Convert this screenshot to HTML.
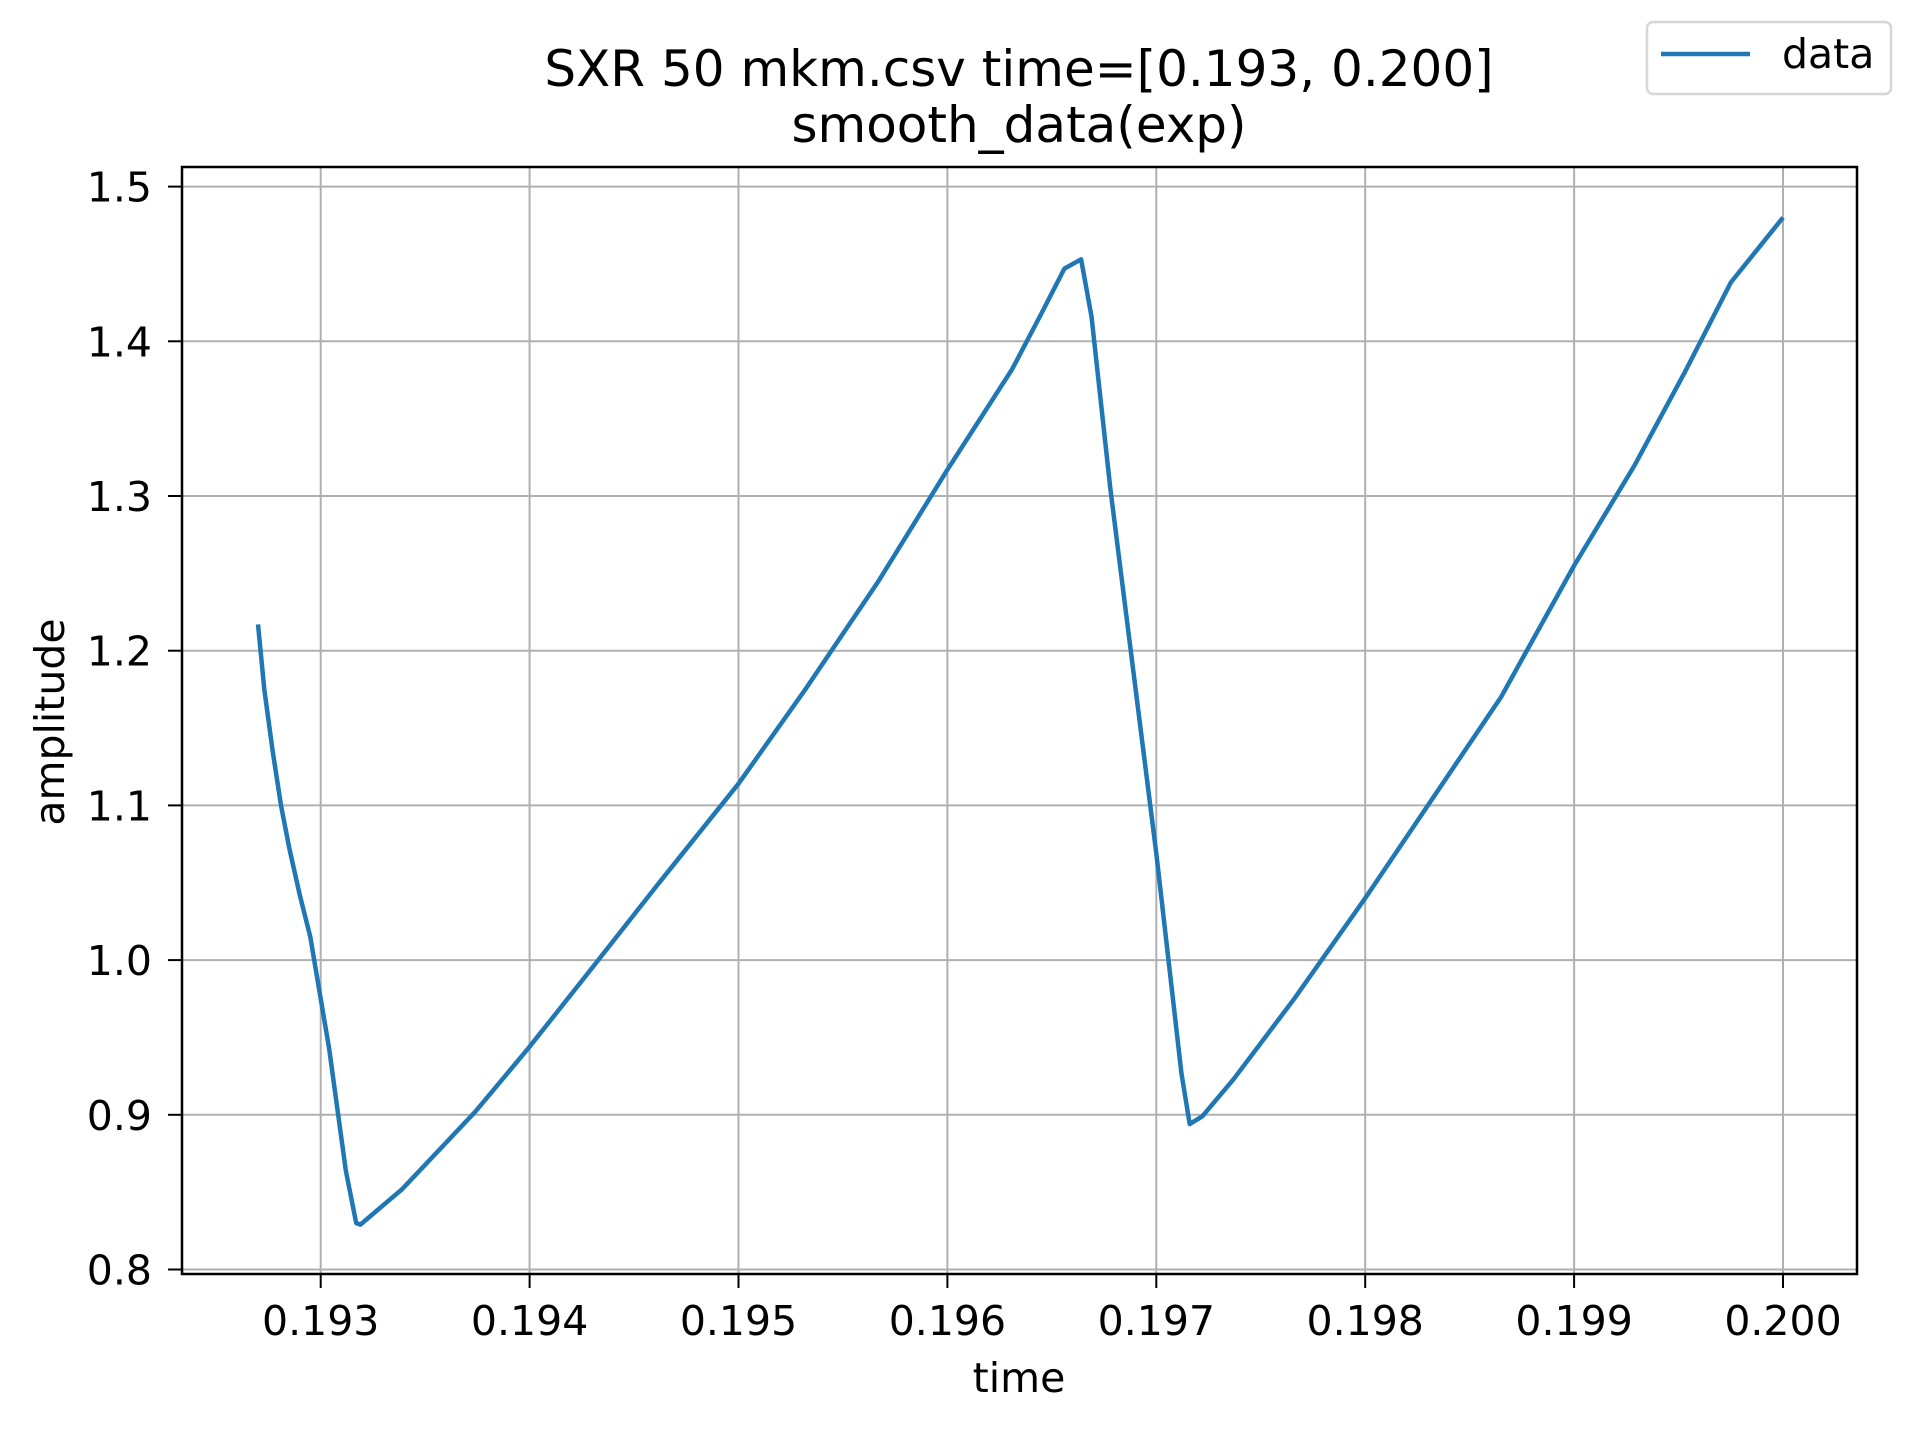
<!DOCTYPE html>
<html><head><meta charset="utf-8"><style>
html,body{margin:0;padding:0;background:#fff;}
svg{display:block;font-family:"DejaVu Sans","Liberation Sans",sans-serif;}
</style></head><body>
<svg id="chart" width="1912" height="1430" viewBox="0 0 1912 1430" xmlns="http://www.w3.org/2000/svg">
<rect width="1912" height="1430" fill="#fff"/>
<g id="grid"></g>
<g id="series"></g>
<rect x="182" y="167" width="1675" height="1107" fill="none" stroke="#000" stroke-width="2.5"/>
<g id="ticks"></g>
<text x="1019" y="86" text-anchor="middle" font-size="50">SXR 50 mkm.csv time=[0.193, 0.200]</text>
<text x="1019" y="142" text-anchor="middle" font-size="50">smooth_data(exp)</text>
<text x="1019" y="1392" text-anchor="middle" font-size="41">time</text>
<text transform="translate(64,722) rotate(-90)" text-anchor="middle" font-size="41">amplitude</text>
<g>
<rect x="1647" y="22" width="244" height="72" rx="6" fill="#fff" stroke="#d6d6d6" stroke-width="2.5"/>
<line x1="1661" y1="54" x2="1750" y2="54" stroke="#1f77b4" stroke-width="4.5"/>
<text x="1782" y="68" font-size="41">data</text>
</g>
</svg>
<script>
const xTicks = [0.193,0.194,0.195,0.196,0.197,0.198,0.199,0.200];
const xTickLabels = ["0.193","0.194","0.195","0.196","0.197","0.198","0.199","0.200"];
const yTicks = [0.8,0.9,1.0,1.1,1.2,1.3,1.4,1.5];
const yTickLabels = ["0.8","0.9","1.0","1.1","1.2","1.3","1.4","1.5"];
const times = [0.19270,0.19273,0.19277,0.19281,0.19285,0.19290,0.19295,0.19300,0.19304,0.19312,0.19317,0.19319,0.19339,0.19374,0.19400,0.19427,0.19462,0.19500,0.19532,0.19567,0.19600,0.19631,0.19645,0.19656,0.19664,0.19669,0.19678,0.19700,0.19712,0.19716,0.19722,0.19737,0.19766,0.19800,0.19830,0.19865,0.19900,0.19929,0.19953,0.19975,0.20000];
const amps = [1.217,1.175,1.135,1.100,1.072,1.042,1.015,0.975,0.943,0.864,0.830,0.829,0.852,0.902,0.944,0.990,1.050,1.114,1.175,1.245,1.317,1.382,1.418,1.447,1.453,1.416,1.305,1.069,0.927,0.894,0.899,0.923,0.975,1.040,1.100,1.170,1.255,1.320,1.380,1.438,1.480];

const NS="http://www.w3.org/2000/svg";
function xs(t){return 320.7+(t-0.193)*1000*208.9;}
function ys(v){return 186.6+(1.5-v)*10*154.7;}
function mk(tag,attrs,parent){const e=document.createElementNS(NS,tag);for(const k in attrs)e.setAttribute(k,attrs[k]);parent.appendChild(e);return e;}
const grid=document.getElementById('grid'),ticks=document.getElementById('ticks'),series=document.getElementById('series');
xTicks.forEach((t,i)=>{
  const x=xs(t);
  const g=mk('line',{x1:x,y1:167,x2:x,y2:1274,stroke:'#b0b0b0','stroke-width':2},grid);
  
  
  const tk=mk('line',{x1:x,y1:1274,x2:x,y2:1288,stroke:'#000','stroke-width':2},ticks);
  
  
  const lb=mk('text',{x:x,y:1335,'text-anchor':'middle','font-size':41},ticks);
  lb.textContent=xTickLabels[i];
  
  
});
yTicks.forEach((v,i)=>{
  const y=ys(v);
  const g=mk('line',{x1:182,y1:y,x2:1857,y2:y,stroke:'#b0b0b0','stroke-width':2},grid);
  
  
  const tk=mk('line',{x1:168,y1:y,x2:182,y2:y,stroke:'#000','stroke-width':2},ticks);
  
  
  const lb=mk('text',{x:152,y:y+15,'text-anchor':'end','font-size':41},ticks);
  lb.textContent=yTickLabels[i];
  
  
});
const d=times.map((t,i)=>(i?'L':'M')+xs(t).toFixed(1)+' '+ys(amps[i]).toFixed(1)).join(' ');
const p=mk('path',{d:d,fill:'none',stroke:'#1f77b4','stroke-width':4.5,'stroke-linejoin':'round'},series);


</script>
</body></html>
